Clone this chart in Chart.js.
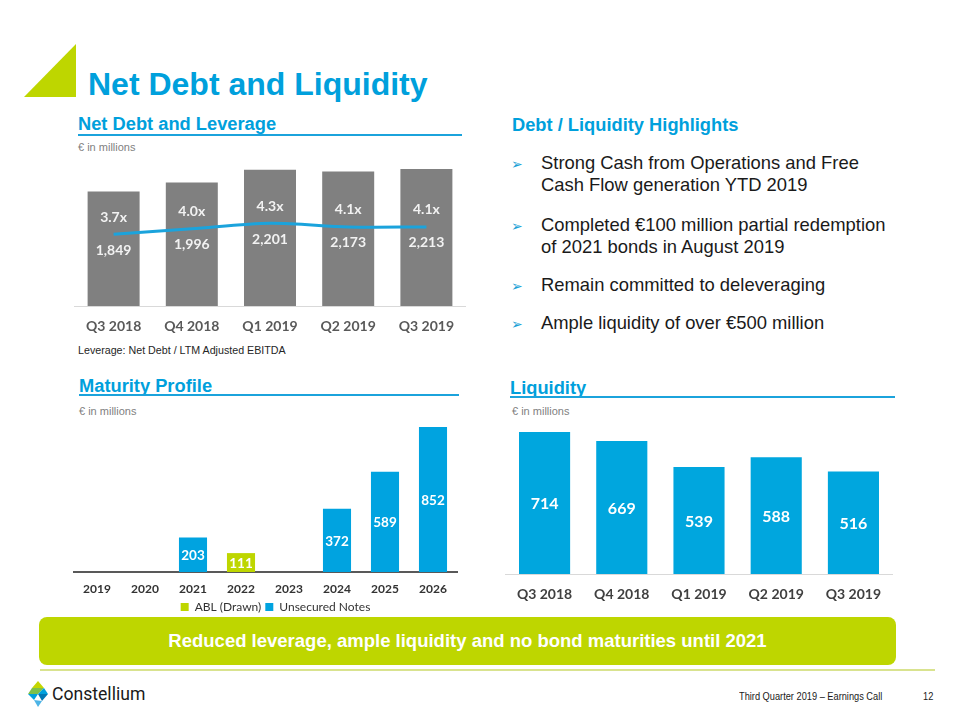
<!DOCTYPE html>
<html>
<head>
<meta charset="utf-8">
<title>Net Debt and Liquidity</title>
<script src="https://cdn.jsdelivr.net/npm/chart.js@4.4.0/dist/chart.umd.min.js"></script>
<style>
  html, body { margin: 0; padding: 0; }
  body { width: 960px; height: 720px; position: relative; background: #fff; overflow: hidden;
         font-family: "Liberation Sans", Arial, sans-serif; }
  .abs { position: absolute; white-space: nowrap; }
  .title { left: 88px; top: 68px; font-size: 32px; line-height: 32px; font-weight: bold; color: #00a0dc; }
  .head { font-size: 18.3px; line-height: 18px; font-weight: bold; color: #00a0dc; }
  .rule { position: absolute; height: 2px; background: #1ba3dc; }
  .unit { font-size: 11px; line-height: 11px; color: #7f7f7f; }
  .bul { left: 541px; font-size: 18.4px; line-height: 22px; color: #1a1a1a; }
  .arrow { left: 511px; font-family: "DejaVu Sans"; font-size: 14px; line-height: 22px; color: #1a9fd6; }
  .narrow { font-family: "Liberation Sans", Arial, sans-serif; font-size: 11px; line-height: 12px; color: #1a1a1a;
            transform: scaleX(0.84); transform-origin: left center; }
  canvas { position: absolute; }
</style>
</head>
<body>

<svg class="abs" style="left:0;top:0" width="960" height="720">
  <polygon points="24,97 76,44 76,97" fill="#bed600"/>
  <!-- logo mark -->
  <polygon points="38,681 44,688 32,688" fill="#c4d600"/>
  <polygon points="32,688 44,688 38,694 28,694" fill="#7cc04b"/>
  <polygon points="44,688 48,694 38,694" fill="#00a0dc"/>
  <polygon points="28,694 38,694 34,700" fill="#00a0dc"/>
  <polygon points="38,694 48,694 42,701" fill="#0077b3"/>
  <polygon points="34,700 42,701 38,707" fill="#4db4e6"/>
</svg>

<div class="abs title">Net Debt and Liquidity</div>

<div class="abs head" style="left:78px;top:115px">Net Debt and Leverage</div>
<div class="rule" style="left:78px;top:134px;width:384px"></div>
<div class="abs unit" style="left:78px;top:142px">€ in millions</div>
<div class="abs" style="left:78px;top:345px;font-size:10.7px;line-height:11px;color:#262626">Leverage: Net Debt / LTM Adjusted EBITDA</div>

<div class="abs head" style="left:512px;top:116px">Debt / Liquidity Highlights</div>
<div class="abs arrow" style="top:153px">➢</div>
<div class="abs bul" style="top:152px">Strong Cash from Operations and Free<br>Cash Flow generation YTD 2019</div>
<div class="abs arrow" style="top:215px">➢</div>
<div class="abs bul" style="top:214px">Completed €100 million partial redemption<br>of 2021 bonds in August 2019</div>
<div class="abs arrow" style="top:275px">➢</div>
<div class="abs bul" style="top:274px">Remain committed to deleveraging</div>
<div class="abs arrow" style="top:313px">➢</div>
<div class="abs bul" style="top:312px">Ample liquidity of over €500 million</div>

<div class="abs head" style="left:79px;top:377px">Maturity Profile</div>
<div class="rule" style="left:79px;top:394px;width:380px"></div>
<div class="abs unit" style="left:79px;top:406px">€ in millions</div>

<div class="abs head" style="left:510px;top:379px">Liquidity</div>
<div class="rule" style="left:510px;top:396px;width:385px"></div>
<div class="abs unit" style="left:512px;top:406px">€ in millions</div>

<div class="abs" style="left:39px;top:617px;width:857px;height:48px;border-radius:8px;background:#bed600;
     color:#fff;font-weight:bold;font-size:18.5px;line-height:48px;text-align:center">Reduced leverage, ample liquidity and no bond maturities until 2021</div>
<div class="abs" style="left:40px;top:669px;width:895px;height:2px;background:#d9e38f"></div>

<div class="abs" style="left:52px;top:684px;font-family:Roboto;font-size:17.6px;line-height:20px;color:#1a1a1a">Constellium</div>
<div class="abs narrow" style="left:739px;top:690px">Third Quarter 2019 – Earnings Call</div>
<div class="abs narrow" style="left:923px;top:690px">12</div>

<canvas id="netDebtChart" width="392" height="185" style="left:74px;top:150px"></canvas>
<canvas id="maturityChart" width="405" height="213" style="left:73px;top:410px"></canvas>
<canvas id="liquidityChart" width="388" height="193" style="left:505px;top:410px"></canvas>

<script>
// --- Data ---
const quarters = ['Q3 2018', 'Q4 2018', 'Q1 2019', 'Q2 2019', 'Q3 2019'];
const netDebt = [1849, 1996, 2201, 2173, 2213];
const leverage = [3.7, 4.0, 4.3, 4.1, 4.1];

const maturityYears = ['2019', '2020', '2021', '2022', '2023', '2024', '2025', '2026'];
const ablDrawn = [null, null, null, 111, null, null, null, null];
const unsecuredNotes = [null, null, 203, null, null, 372, 589, 852];

const liquidity = [714, 669, 539, 588, 516];

// --- Shared bits ---
Chart.defaults.font.family = 'Lato';
Chart.defaults.animation = false;
Chart.defaults.plugins.tooltip.enabled = false;

const BLUE = '#00a3e0';
const GREEN = '#bed600';
const fmtNum = v => v.toLocaleString('en-US');

// white labels centred inside each bar
const barLabels = {
    id: 'barLabels',
    afterDatasetsDraw(chart, args, opts) {
        if (!opts.font) return;
        const ctx = chart.ctx;
        ctx.save();
        ctx.font = opts.font;
        ctx.fillStyle = opts.color;
        ctx.textAlign = 'center';
        ctx.textBaseline = 'middle';
        chart.data.datasets.forEach((ds, i) => {
            const meta = chart.getDatasetMeta(i);
            if (meta.type !== 'bar') return;
            meta.data.forEach((bar, j) => {
                const v = ds.data[j];
                if (v == null) return;
                ctx.fillText(fmtNum(v), bar.x, (bar.y + bar.base) / 2 + 1);
            });
        });
        ctx.restore();
    }
};

// leverage above the line, net debt below it
const lineLabels = {
    id: 'lineLabels',
    afterDatasetsDraw(chart) {
        const meta = chart.getDatasetMeta(1);
        const ctx = chart.ctx;
        ctx.save();
        ctx.font = 'bold 14px Lato';
        ctx.fillStyle = '#f2f2f2';
        ctx.textAlign = 'center';
        ctx.textBaseline = 'middle';
        meta.data.forEach((pt, j) => {
            ctx.fillText(leverage[j].toFixed(1) + 'x', pt.x, pt.y - 17);
            ctx.fillText(fmtNum(netDebt[j]), pt.x, pt.y + 16);
        });
        ctx.restore();
    }
};

// --- Net Debt and Leverage ---
new Chart(document.getElementById('netDebtChart'), {
    data: {
        labels: quarters,
        datasets: [{
            type: 'bar',
            data: netDebt,
            backgroundColor: '#808080',
            categoryPercentage: 1,
            barPercentage: 0.665,
            yAxisID: 'y',
            order: 2
        }, {
            type: 'line',
            data: leverage,
            borderColor: '#1ba3dc',
            borderWidth: 3,
            pointRadius: 0,
            tension: 0.3,
            yAxisID: 'y2',
            order: 1
        }]
    },
    options: {
        responsive: false,
        layout: { padding: { top: 10 } },
        plugins: { legend: { display: false } },
        scales: {
            x: {
                grid: { display: false, drawTicks: false },
                border: { color: '#d9d9d9', width: 1 },
                ticks: { padding: 12, color: '#595959', font: { size: 14, weight: 'bold' } },
                afterFit: s => { s.height = 29; }
            },
            y: { display: false, min: 0, max: 2360 },
            y2: { display: false, min: -0.22, max: 7.76 }
        }
    },
    plugins: [lineLabels]
});

// --- Maturity Profile ---
new Chart(document.getElementById('maturityChart'), {
    type: 'bar',
    data: {
        labels: maturityYears,
        datasets: [{
            label: 'ABL (Drawn)',
            data: ablDrawn,
            backgroundColor: GREEN,
            categoryPercentage: 1,
            barPercentage: 0.585
        }, {
            label: 'Unsecured Notes',
            data: unsecuredNotes,
            backgroundColor: BLUE,
            categoryPercentage: 1,
            barPercentage: 0.585
        }]
    },
    options: {
        responsive: false,
        layout: { padding: { top: 10 } },
        plugins: {
            legend: {
                position: 'bottom',
                labels: { boxWidth: 8, boxHeight: 8, padding: 4, color: '#333333', font: { size: 12 } }
            },
            barLabels: { font: 'bold 13.5px Lato', color: '#ffffff' }
        },
        scales: {
            x: {
                stacked: true,
                grid: { display: false, drawTicks: false },
                border: { color: '#595959', width: 2 },
                ticks: { padding: 10, color: '#333333', font: { size: 12, weight: 'bold' } },
                afterFit: s => { s.height = 25; }
            },
            y: {
                stacked: true,
                position: 'right',
                min: 0, max: 893,
                grid: { display: false },
                border: { display: false },
                ticks: { display: false },
                afterFit: s => { s.width = 21; }
            }
        }
    },
    plugins: [barLabels]
});

// --- Liquidity ---
new Chart(document.getElementById('liquidityChart'), {
    type: 'bar',
    data: {
        labels: quarters,
        datasets: [{
            data: liquidity,
            backgroundColor: '#00a6de',
            categoryPercentage: 1,
            barPercentage: 0.662
        }]
    },
    options: {
        responsive: false,
        layout: { padding: { top: 10 } },
        plugins: {
            legend: { display: false },
            barLabels: { font: 'bold 16px Lato', color: '#ffffff' }
        },
        scales: {
            x: {
                grid: { display: false, drawTicks: false },
                border: { color: '#d9d9d9', width: 1 },
                ticks: { padding: 12, color: '#404040', font: { size: 14, weight: 'bold' } },
                afterFit: s => { s.height = 29; }
            },
            y: { display: false, min: 0, max: 775 }
        }
    },
    plugins: [barLabels]
});
</script>
</body>
</html>
